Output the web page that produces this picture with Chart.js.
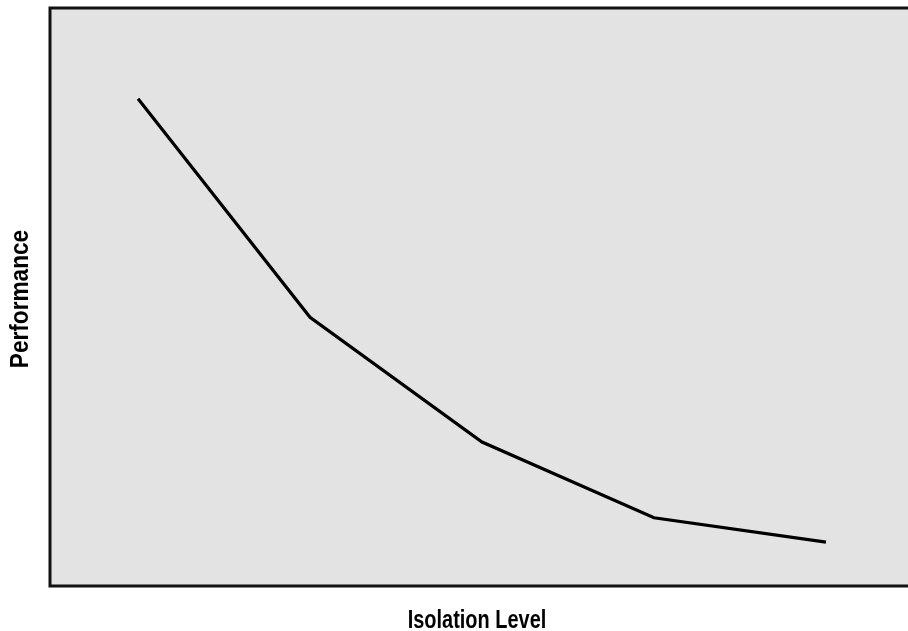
<!DOCTYPE html>
<html>
<head>
<meta charset="utf-8">
<script src="https://cdn.jsdelivr.net/npm/chart.js@4"></script>
<style>
  html, body { margin: 0; padding: 0; background: #fff; }
  canvas { display: block; }
</style>
</head>
<body>
<canvas id="chart" width="908" height="631"></canvas>
<script>
// isolation levels along x, relative performance along y
const isolationLevels = [1, 2, 3, 4, 5];
const performance = [84.3, 46.5, 24.9, 11.8, 7.6];

const xTitle = 'Isolation Level';
const yTitle = 'Performance';

// condensed bold look for the axis titles
const TITLE_FONT = 'bold 26px "Liberation Sans", Arial, sans-serif';
const CONDENSE_X = 0.767;
const CONDENSE_Y = 0.87;

/** Gray plot panel with a dark frame on left, top and bottom */
const panel = {
  id: 'panel',
  beforeDatasetsDraw(chart) {
    const { ctx, chartArea: a } = chart;
    ctx.save();
    ctx.fillStyle = '#e3e3e3';
    ctx.fillRect(a.left, a.top, a.right - a.left, a.bottom - a.top);
    ctx.restore();
  },
  afterDatasetsDraw(chart) {
    const { ctx, chartArea: a } = chart;
    ctx.save();
    ctx.strokeStyle = '#111';
    ctx.lineWidth = 3;
    ctx.beginPath();
    ctx.moveTo(a.right + 2, a.top);
    ctx.lineTo(a.left, a.top);
    ctx.lineTo(a.left, a.bottom);
    ctx.lineTo(a.right + 2, a.bottom);
    ctx.stroke();
    ctx.restore();
  },
};

/** Axis titles, squeezed horizontally to mimic a condensed face */
const axisTitles = {
  id: 'axisTitles',
  afterDraw(chart) {
    const { ctx, chartArea: a } = chart;
    ctx.save();
    ctx.fillStyle = '#000';
    ctx.font = TITLE_FONT;
    ctx.textAlign = 'center';
    ctx.textBaseline = 'alphabetic';

    ctx.save();
    ctx.translate((a.left + a.right) / 2 - 2, a.bottom + 42);
    ctx.scale(CONDENSE_X, 1);
    ctx.fillText(xTitle, 0, 0);
    ctx.restore();

    ctx.save();
    ctx.translate(a.left - 22, (a.top + a.bottom) / 2 + 2);
    ctx.rotate(-Math.PI / 2);
    ctx.scale(CONDENSE_Y, 1);
    ctx.fillText(yTitle, 0, 0);
    ctx.restore();

    ctx.restore();
  },
};

new Chart(document.getElementById('chart'), {
  type: 'line',
  data: {
    datasets: [{
      data: isolationLevels.map((x, i) => ({ x, y: performance[i] })),
      borderColor: '#000',
      borderWidth: 3.2,
      pointRadius: 0,
      tension: 0,
      fill: false,
    }],
  },
  options: {
    responsive: false,
    animation: false,
    layout: { padding: { left: 50, top: 8, right: 0, bottom: 45 } },
    plugins: { legend: { display: false }, tooltip: { enabled: false } },
    scales: {
      x: {
        type: 'linear',
        min: 0.488,
        max: 5.477,
        display: false,
      },
      y: {
        min: 0,
        max: 100,
        display: false,
      },
    },
  },
  plugins: [panel, axisTitles],
});
</script>
</body>
</html>
